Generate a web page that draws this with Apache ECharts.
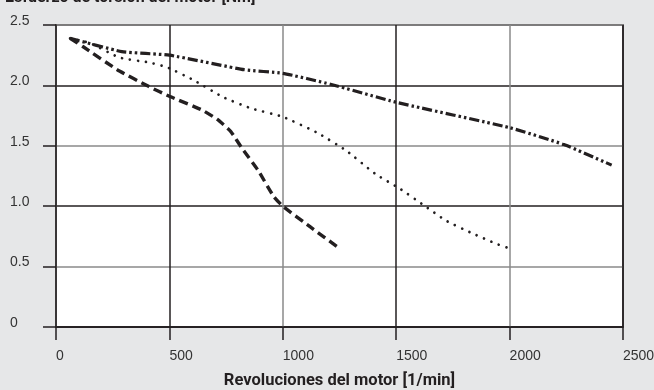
<!DOCTYPE html>
<html>
<head>
<meta charset="utf-8">
<script src="https://cdn.jsdelivr.net/npm/echarts@6/dist/echarts.min.js"></script>
<style>
  html, body { margin: 0; padding: 0; background: #e6e7e8; }
  #chart { width: 654px; height: 390px; }
</style>
</head>
<body>
<div id="chart"></div>
<script>
// Motor torque vs. speed curves
const yTitle = 'Esfuerzo de torsión del motor [Nm]';
const xTitle = 'Revoluciones del motor [1/min]';
const xTicks = [0, 500, 1000, 1500, 2000, 2500];
const yTicks = [0, 0.5, 1.0, 1.5, 2.0, 2.5];

// dash-dot-dot curve
const rpmLong = [62, 290, 500, 830, 1000, 1210, 1500, 2000, 2240, 2450];
const torqueLong = [2.39, 2.28, 2.25, 2.13, 2.10, 2.01, 1.86, 1.65, 1.51, 1.34];

// dotted curve
const rpmDot = [62, 150, 280, 410, 490, 600, 740, 860, 1000, 1150, 1280, 1406, 1520, 1620, 1720, 1830, 1940, 2000];
const torqueDot = [2.39, 2.35, 2.23, 2.19, 2.15, 2.05, 1.90, 1.81, 1.74, 1.61, 1.46, 1.27, 1.14, 1.01, 0.88, 0.78, 0.69, 0.65];

// dashed curve
const rpmDash = [62, 120, 270, 410, 500, 640, 710, 770, 820, 890, 960, 1000, 1120, 1250];
const torqueDash = [2.39, 2.32, 2.13, 1.99, 1.91, 1.80, 1.72, 1.62, 1.48, 1.30, 1.08, 1.00, 0.83, 0.65];

const pairs = (xs, ys) => xs.map((x, i) => [x, ys[i]]);
const labelFont = '"Liberation Sans", "Noto Sans", sans-serif';
const titleFont = 'Roboto, "Liberation Sans", sans-serif';

const chart = echarts.init(document.getElementById('chart'), null, { renderer: 'canvas' });

function curve(data, dash, width, cap) {
  return {
    type: 'line',
    data: data,
    symbol: 'none',
    smooth: 0.15,
    lineStyle: { color: '#231f20', width: width, type: dash, cap: cap }
  };
}

chart.setOption({
  backgroundColor: '#e6e7e8',
  animation: false,
  graphic: [{
    type: 'text',
    left: 5,
    top: -10,
    style: { text: yTitle, font: 'bold 16px ' + titleFont, fill: '#231f20' }
  }],
  grid: {
    left: 56, right: 31, top: 25, bottom: 63,
    outerBoundsMode: 'none',
    containLabel: false,
    show: true, backgroundColor: '#ffffff', borderColor: '#231f20', borderWidth: 1.5
  },
  xAxis: {
    type: 'value',
    min: xTicks[0], max: xTicks[xTicks.length - 1], interval: 500,
    name: xTitle,
    nameLocation: 'middle',
    nameGap: 45,
    nameTextStyle: { fontFamily: titleFont, fontWeight: 'bold', fontSize: 16.5, color: '#231f20' },
    axisLine: { show: true, onZero: false, lineStyle: { color: '#231f20', width: 1.5 } },
    axisTick: { show: true, length: 13, lineStyle: { color: '#231f20', width: 1.5 } },
    axisLabel: {
      color: '#333', fontFamily: labelFont, fontSize: 14, margin: 22, align: 'left',
      formatter: v => String(v)
    },
    splitLine: { show: true, lineStyle: { color: ['#8a8a8a', '#231f20'], width: 1.5 } }
  },
  yAxis: {
    type: 'value',
    min: yTicks[0], max: yTicks[yTicks.length - 1], interval: 0.5,
    axisLine: { show: true, lineStyle: { color: '#231f20', width: 1.5 } },
    axisTick: { show: true, length: 13, lineStyle: { color: '#231f20', width: 1.5 } },
    axisLabel: {
      color: '#333', fontFamily: labelFont, fontSize: 14, margin: 46, align: 'left',
      verticalAlign: 'bottom', lineHeight: 8,
      formatter: v => (v === 0 ? '0' : v.toFixed(1))
    },
    splitLine: { show: true, lineStyle: { color: ['#231f20', '#8a8a8a'], width: 1.5 } }
  },
  series: [
    curve(pairs(rpmLong, torqueLong), [10, 3, 2.5, 3, 2.5, 3], 3.2, 'butt'),
    curve(pairs(rpmDot, torqueDot), [0.01, 8], 2.7, 'round'),
    curve(pairs(rpmDash, torqueDash), [9, 5], 3.4, 'butt')
  ]
});
</script>
</body>
</html>
